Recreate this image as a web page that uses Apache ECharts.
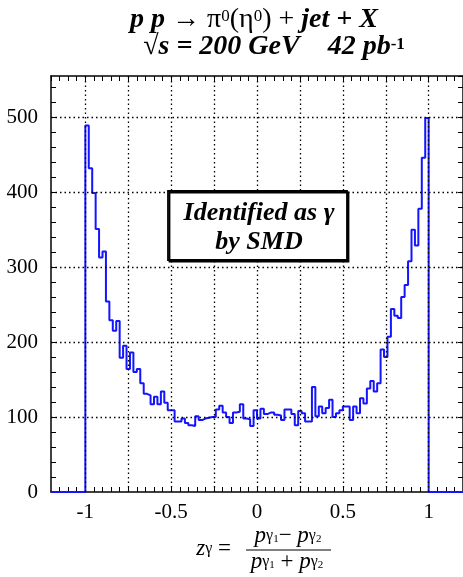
<!DOCTYPE html>
<html>
<body style="margin:0; background:#ffffff;">

<!-- chart container -->
<div id="zgamma" style="width:463px; height:577px;"></div>

<script src="https://cdn.jsdelivr.net/npm/echarts@6/dist/echarts.min.js"></script>

<script>
  // histogram: 100 bins of width 0.02 from -1 to 1
  var binStart = -1;
  var binWidth = 0.02;
  var counts = [
    489, 432, 399, 351, 313, 321, 254, 229, 215, 228,
    179, 195, 164, 186, 160, 164, 145, 131, 129, 117,
    127, 117, 134, 119, 109, 109, 94, 94, 98, 92,
    89, 88, 101, 96, 98, 99, 100, 100, 110, 115,
    106, 100, 92, 106, 107, 117, 98, 97, 88, 109,
    98, 111, 104, 106, 106, 103, 102, 96, 110, 110,
    104, 89, 108, 105, 94, 94, 140, 101, 114, 105,
    112, 123, 100, 105, 109, 114, 114, 96, 114, 105,
    125, 118, 138, 148, 134, 145, 190, 180, 207, 244,
    235, 232, 260, 276, 308, 350, 329, 378, 446, 499
  ];

  // dotted reference lines
  var gridX = [-1, -0.75, -0.5, -0.25, 0, 0.25, 0.5, 0.75, 1];
  var gridY = [100, 200, 300, 400, 500];

  var xMin = -1.2, xMax = 1.2;
  var yMin = 0, yMax = 555;

  // build step points (left edge of each bin) plus empty range outside
  var histData = [[xMin, 0]];
  counts.forEach(function (c, i) {
    histData.push([binStart + i * binWidth, c]);
  });
  histData.push([binStart + counts.length * binWidth, 0]);
  histData.push([xMax, 0]);

  var serif = "'Liberation Serif', 'DejaVu Serif', serif";

  var gridLines = [];
  gridX.forEach(function (v) { gridLines.push({ xAxis: v }); });
  gridY.forEach(function (v) { gridLines.push({ yAxis: v }); });

  function xAxisOpt(pos, showLabel) {
    return {
      type: 'value',
      position: pos,
      min: xMin,
      max: xMax,
      interval: 0.05,
      axisLine: { show: true, onZero: false, lineStyle: { color: '#000', width: 1.5 } },
      axisTick: { show: true, inside: true, length: 5, lineStyle: { color: '#000', width: 1 } },
      axisLabel: {
        show: showLabel,
        margin: 4,
        color: '#000',
        fontFamily: serif,
        fontSize: 21,
        showMinLabel: false,
        showMaxLabel: false,
        formatter: function (v) {
          return Math.abs(v * 2 - Math.round(v * 2)) < 1e-6 ? String(Math.round(v * 2) / 2) : '';
        }
      },
      splitLine: { show: false }
    };
  }

  function yAxisOpt(pos, showLabel) {
    return {
      type: 'value',
      position: pos,
      min: yMin,
      max: yMax,
      interval: 20,
      axisLine: { show: true, onZero: false, lineStyle: { color: '#000', width: 1.5 } },
      axisTick: { show: true, inside: true, length: 5, lineStyle: { color: '#000', width: 1 } },
      axisLabel: {
        show: showLabel,
        margin: 13,
        color: '#000',
        fontFamily: serif,
        fontSize: 21,
        showMaxLabel: false,
        formatter: function (v) { return v % 100 === 0 ? String(v) : ''; }
      },
      splitLine: { show: false }
    };
  }

  var titleRich = {
    bi: { fontFamily: serif, fontSize: 28, fontWeight: 'bold', fontStyle: 'italic', lineHeight: 32 },
    r: { fontFamily: serif, fontSize: 28, lineHeight: 32 },
    sup: { fontFamily: serif, fontSize: 17, lineHeight: 19, verticalAlign: 'top' },
    bsup: { fontFamily: serif, fontSize: 17, fontWeight: 'bold', lineHeight: 19, verticalAlign: 'top' }
  };

  var fracRich = {
    i: { fontFamily: serif, fontSize: 23, fontStyle: 'italic', lineHeight: 24 },
    r: { fontFamily: serif, fontSize: 23, lineHeight: 24 },
    s: { fontFamily: serif, fontSize: 16, lineHeight: 13, verticalAlign: 'bottom' },
    ss: { fontFamily: serif, fontSize: 11, lineHeight: 9, verticalAlign: 'bottom' }
  };

  var option = {
    animation: false,
    backgroundColor: '#fff',
    grid: { left: 51, top: 76, right: -3, bottom: 85 },
    xAxis: [xAxisOpt('bottom', true), xAxisOpt('top', false)],
    yAxis: [yAxisOpt('left', true), yAxisOpt('right', false)],
    series: [
      {
        name: 'grid',
        type: 'line',
        data: [],
        z: 1,
        silent: true,
        markLine: {
          silent: true,
          symbol: ['none', 'none'],
          label: { show: false },
          lineStyle: { color: '#000', type: [1.5, 3], width: 1.3 },
          emphasis: { disabled: true },
          data: gridLines
        }
      },
      {
        name: 'z_gamma',
        type: 'line',
        step: 'end',
        z: 3,
        showSymbol: false,
        lineStyle: { color: '#1414ff', width: 2 },
        data: histData
      }
    ],
    graphic: [
      // title
      {
        type: 'text', x: 254, y: 20, z: 10,
        style: {
          text: '{bi|p p }{r|\u2192 \u03c0}{sup|0}{r|(\u03b7}{sup|0}{r|) + }{bi|jet + X}',
          textAlign: 'center', textVerticalAlign: 'middle',
          fill: '#000', rich: titleRich
        }
      },
      {
        type: 'text', x: 274, y: 47, z: 10,
        style: {
          text: '{r|\u221a}{bi|s = 200 GeV    42 pb}{bsup|-1}',
          textAlign: 'center', textVerticalAlign: 'middle',
          fill: '#000', rich: titleRich
        }
      },
      // annotation box
      {
        type: 'rect', z: 10,
        shape: { x: 168, y: 191, width: 179, height: 69 },
        style: { fill: '#fff', stroke: '#000', lineWidth: 1.8, shadowColor: '#000', shadowOffsetX: 1.5, shadowOffsetY: 1.5, shadowBlur: 0 }
      },
      {
        type: 'text', x: 259, y: 213, z: 11,
        style: {
          text: 'Identified as \u03b3', textAlign: 'center', textVerticalAlign: 'middle',
          fill: '#000', fontFamily: serif, fontSize: 26, fontWeight: 'bold', fontStyle: 'italic'
        }
      },
      {
        type: 'text', x: 259, y: 242, z: 11,
        style: {
          text: 'by SMD', textAlign: 'center', textVerticalAlign: 'middle',
          fill: '#000', fontFamily: serif, fontSize: 26, fontWeight: 'bold', fontStyle: 'italic'
        }
      },
      // x axis title: z_gamma = (p1 - p2) / (p1 + p2)
      {
        type: 'text', x: 231, y: 549, z: 10,
        style: {
          text: '{i|z}{s|\u03b3}{r| =}', textAlign: 'right', textVerticalAlign: 'middle',
          fill: '#000', rich: fracRich
        }
      },
      {
        type: 'text', x: 288, y: 536, z: 10,
        style: {
          text: '{i|p}{s|\u03b3}{ss|1}{r|\u2212 }{i|p}{s|\u03b3}{ss|2}', textAlign: 'center', textVerticalAlign: 'middle',
          fill: '#000', rich: fracRich
        }
      },
      {
        type: 'line', z: 10,
        shape: { x1: 246, y1: 550, x2: 331, y2: 550 },
        style: { stroke: '#000', lineWidth: 1 }
      },
      {
        type: 'text', x: 287, y: 562, z: 10,
        style: {
          text: '{i|p}{s|\u03b3}{ss|1}{r| + }{i|p}{s|\u03b3}{ss|2}', textAlign: 'center', textVerticalAlign: 'middle',
          fill: '#000', rich: fracRich
        }
      }
    ]
  };

  var chart = echarts.init(document.getElementById('zgamma'));
  chart.setOption(option);
</script>
</body>
</html>
